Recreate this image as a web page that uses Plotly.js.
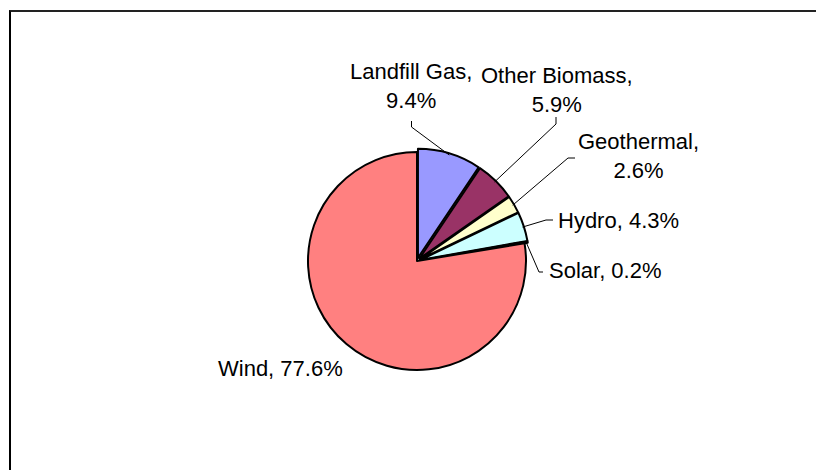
<!DOCTYPE html>
<html>
<head>
<meta charset="utf-8">
<script src="https://cdn.plot.ly/plotly-3.0.1.min.js"></script>
<style>
html,body{margin:0;padding:0;background:#fff;overflow:hidden;}
#chart{width:816px;height:470px;}
</style>
</head>
<body>
<div id="chart"></div>
<script>
// ---- data ----
const labels = ['Landfill Gas', 'Other Biomass', 'Geothermal', 'Hydro', 'Solar', 'Wind'];
const values = [9.4, 5.9, 2.6, 4.3, 0.2, 77.6];

// ---- style ----
const colors = ['#9999FF', '#993366', '#FFFFCC', '#CCFFFF', '#660066', '#FF8080'];
const pulls = [0.03, 0.03, 0.03, 0.03, 0.03, 0];
const twoLine = [true, true, true, false, false, false];
const W = 816, H = 470;
const cx = 417, cy = 261, R = 109;          // pie centre / radius in px
const maxPull = Math.max(...pulls);
const half = R * (1 + maxPull);
const FONT = 'Liberation Sans, Arial, sans-serif';

// label centres and leader elbows (pixels)
const labelPos = [[411, 86.5], [557, 90.5], [638, 156.5], [618, 220.5], [605, 270], [280, 368]];
const elbows = [
  [[411.5, 127], [411.5, 121]],
  [[556, 124], [556, 117]],
  [[568, 158], [575, 158]],
  [[546, 220], [553, 220]],
  [[539, 272], [543, 272]],
  null
];

const px = x => x / W;
const py = y => (H - y) / H;

const total = values.reduce((a, b) => a + b, 0);
let cum = 0;
const annotations = [];
const shapes = [];
values.forEach((v, i) => {
  const mid = (cum + v / 2) / total * 2 * Math.PI;
  cum += v;
  const pct = (v / total * 100).toFixed(1) + '%';
  const txt = labels[i] + ',' + (twoLine[i] ? '<br>' : ' ') + pct;
  annotations.push({
    xref: 'paper', yref: 'paper',
    x: px(labelPos[i][0]), y: py(labelPos[i][1]),
    xanchor: 'center', yanchor: 'middle',
    text: txt, showarrow: false, align: 'center',
    font: {family: FONT, size: 22, color: '#000'}
  });
  if (elbows[i]) {
    const rr = R * (1 + pulls[i]) - 1.5;
    const sx = cx + rr * Math.sin(mid);
    const sy = cy - rr * Math.cos(mid);
    let path = 'M ' + px(sx) + ',' + py(sy);
    elbows[i].forEach(p => { path += ' L ' + px(p[0]) + ',' + py(p[1]); });
    shapes.push({type: 'path', xref: 'paper', yref: 'paper', path: path,
                 line: {color: '#000', width: 1}});
  }
});

// chart frame drawn as a page border (top and left edges)
const frame = document.createElement('div');
frame.style.cssText = 'position:absolute;left:9px;top:10px;width:900px;height:600px;' +
  'border-top:2px solid #222;border-left:2px solid #000;pointer-events:none;';
document.body.appendChild(frame);

const trace = {
  type: 'pie',
  labels: labels,
  values: values,
  sort: false,
  direction: 'clockwise',
  rotation: 0,
  pull: pulls,
  textinfo: 'none',
  hoverinfo: 'label+percent',
  marker: {colors: colors, line: {color: '#000', width: 2}},
  domain: {
    x: [(cx - half) / W, (cx + half) / W],
    y: [(H - cy - half) / H, (H - cy + half) / H]
  }
};

const layout = {
  width: W, height: H,
  margin: {l: 0, r: 0, t: 0, b: 0},
  paper_bgcolor: '#fff',
  plot_bgcolor: '#fff',
  showlegend: false,
  font: {family: FONT, size: 22, color: '#000'},
  annotations: annotations,
  shapes: shapes
};

Plotly.newPlot('chart', [trace], layout, {displayModeBar: false, staticPlot: true});
</script>
</body>
</html>
